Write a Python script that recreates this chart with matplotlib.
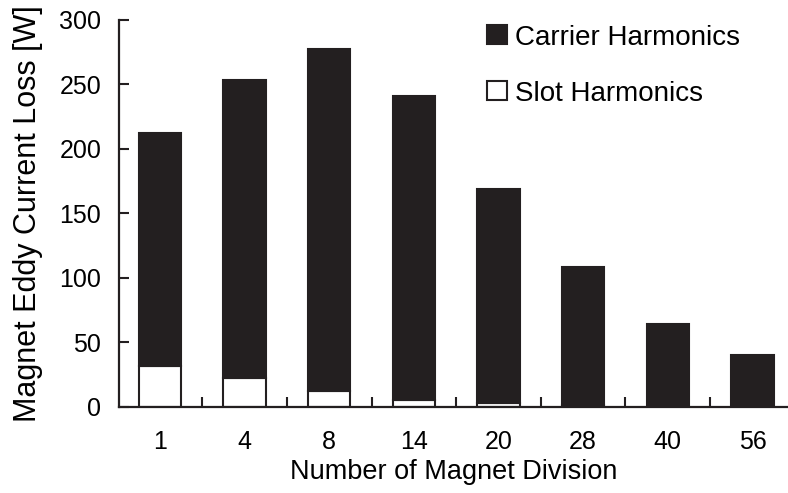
import numpy as np
import matplotlib.pyplot as plt
from matplotlib.patches import Patch

plt.rcParams['font.family'] = ['Liberation Sans', 'DejaVu Sans']

divisions = ["1", "4", "8", "14", "20", "28", "40", "56"]
slot_loss = [31.5, 22, 12, 5, 2.5, 1, 0, 0]
carrier_loss = [180.5, 231, 265, 235.5, 166, 107, 64, 40]

DARK = "#231f20"

fig = plt.figure(figsize=(7.88, 4.93), dpi=100)
ax = fig.add_axes([0.1514, 0.175, 0.8486, 0.785])

x = np.arange(len(divisions))
ax.bar(x, slot_loss, width=0.5, color="white", edgecolor=DARK, linewidth=1.5)
ax.bar(x, carrier_loss, width=0.5, bottom=slot_loss, color=DARK,
       edgecolor=DARK, linewidth=1.5)

ax.set_xlim(-0.48, 7.42)
ax.set_ylim(0, 300)
ax.set_yticks(range(0, 301, 50))
ax.set_xticks(x)
ax.set_xticklabels(divisions)
ax.tick_params(axis="x", length=0, labelsize=18, pad=17)
ax.set_xticks(x[:-1] + 0.5, minor=True)
ax.tick_params(axis="x", which="minor", direction="in", length=7, width=1.5,
               color=DARK)
ax.tick_params(axis="y", direction="in", length=7, width=1.5, color=DARK,
               labelsize=18, pad=13)

for side in ("top", "right"):
    ax.spines[side].set_visible(False)
for side in ("left", "bottom"):
    ax.spines[side].set_linewidth(1.6)
    ax.spines[side].set_color(DARK)

ax.set_xlabel("Number of Magnet Division", fontsize=19.5, labelpad=3)
ax.set_ylabel("Magnet Eddy Current Loss [W]", fontsize=22, labelpad=12)

handles = [Patch(facecolor=DARK, edgecolor=DARK, linewidth=1.5),
           Patch(facecolor="white", edgecolor=DARK, linewidth=1.5)]
fig.legend(handles, ["Carrier Harmonics", "Slot Harmonics"], frameon=False,
           fontsize=20, loc="upper left", bbox_to_anchor=(0.618, 0.95),
           borderpad=0, borderaxespad=0,
           handlelength=0.72, handleheight=0.68, handletextpad=0.3,
           labelspacing=1.08)

fig.savefig("out.png", dpi=100)
